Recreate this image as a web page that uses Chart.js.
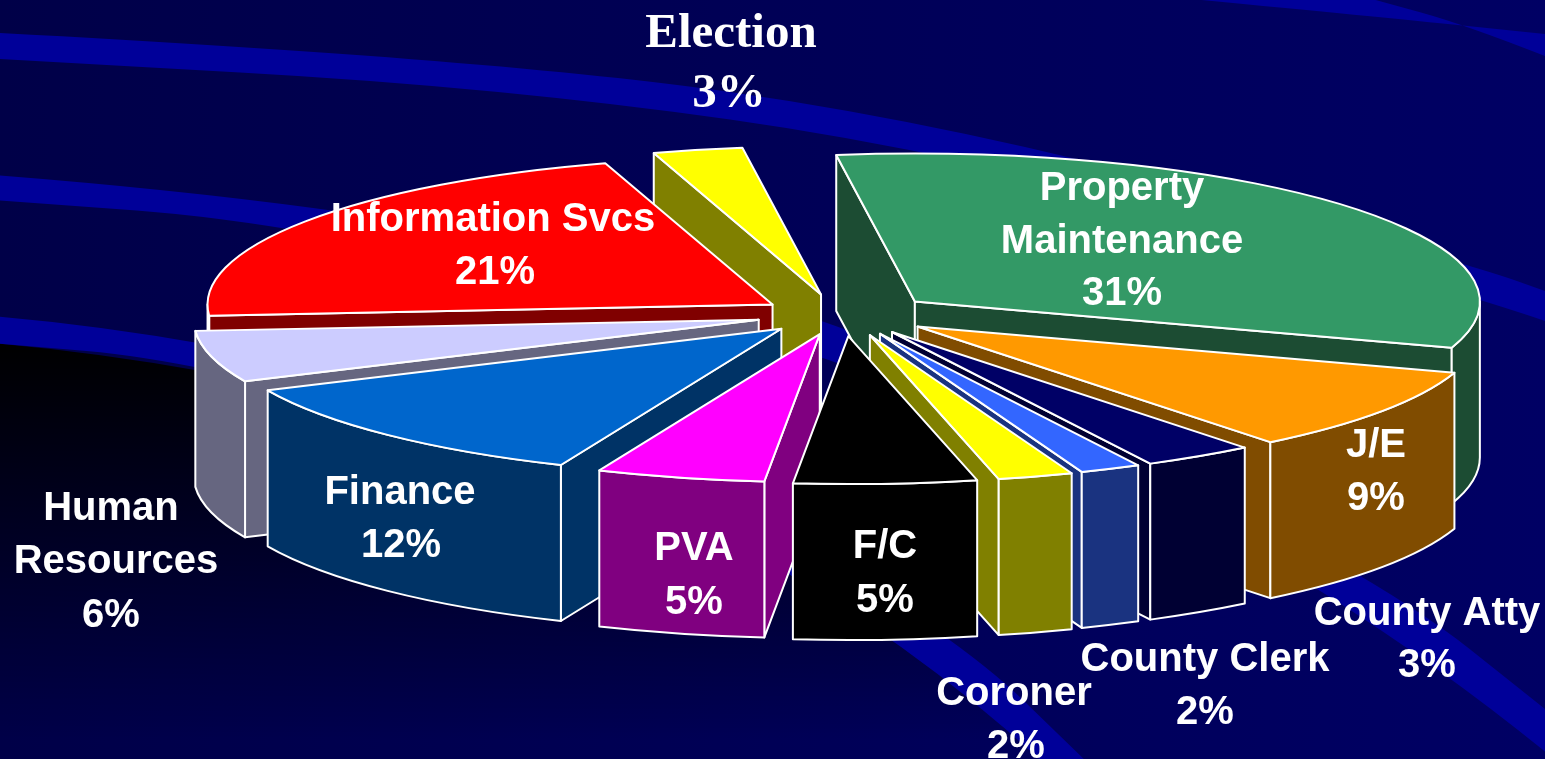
<!DOCTYPE html>
<html>
<head>
<meta charset="utf-8">
<style>
html,body{margin:0;padding:0;background:#000050;overflow:hidden}
#wrap{width:1545px;height:759px}
canvas{display:block}
</style>
<script src="https://cdn.jsdelivr.net/npm/chart.js@4"></script>
</head>
<body>
<div id="wrap"><canvas id="c" width="1545" height="759"></canvas></div>
<script>
// ---- data (unrounded estimates that round to the printed percentages) ----
const categories = ['Property Maintenance','J/E','County Atty','County Clerk','Coroner','F/C','PVA','Finance','Human Resources','Information Svcs','Election'];
const values = [31.49,9,3.1,1.7,2.1,5.1,4.7,11.5,5.5,20.9,2.5];
const sliceColors = ['#339966','#ff9900','#000066','#3366ff','#ffff00','#000000','#ff00ff','#0066cc','#ccccff','#ff0000','#ffff00'];
const wallColors = ['#1c4c33','#804c00','#000033','#1a3380','#808000','#000000','#800080','#003366','#666680','#800000','#808000'];
const explode = [95,92,92,93,95,96,90,87,86,84,96];

// ---- label layout: lines per category with centre positions ----
const labelLines = [
  [['Property',1122,189],['Maintenance',1122,242],['31%',1122,294]],
  [['J/E',1376,446],['9%',1376,499]],
  [['County Atty',1427,614],['3%',1427,666]],
  [['County Clerk',1205,660],['2%',1205,713]],
  [['Coroner',1014,694],['2%',1016,747]],
  [['F/C',885,547],['5%',885,601]],
  [['PVA',694,549],['5%',694,603]],
  [['Finance',400,493],['12%',401,546]],
  [['Human',111,509],['Resources',116,562],['6%',111,616]],
  [['Information Svcs',493,220],['21%',495,273]],
  [['Election',731,34],['3%',729,94]]
];
const serifLabelIndex = 10;

// ---- view of the flattened pie ----
const RX = 565, RY = 148, DEPTH = 156, EXPLODE_TILT = 0.22;

function curve(ctx, pts, move){
  if(move) ctx.moveTo(pts[0][0],pts[0][1]); else ctx.lineTo(pts[0][0],pts[0][1]);
  for(let i=1;i<pts.length-1;i++){
    const mx=(pts[i][0]+pts[i+1][0])/2, my=(pts[i][1]+pts[i+1][1])/2;
    ctx.quadraticCurveTo(pts[i][0],pts[i][1],mx,my);
  }
  const l=pts[pts.length-1]; ctx.lineTo(l[0],l[1]);
}
function band(ctx, top, bottom){
  ctx.beginPath();
  curve(ctx, top, true);
  curve(ctx, bottom.slice().reverse(), false);
  ctx.closePath();
  ctx.fill();
}
const backdrop = {
  id:'backdrop',
  beforeDraw(chart){
    const ctx=chart.ctx, W=chart.width, H=chart.height;
    ctx.save();
    const g=ctx.createLinearGradient(0,0,W,0);
    g.addColorStop(0,'#000048'); g.addColorStop(1,'#000064');
    ctx.fillStyle=g; ctx.fillRect(0,0,W,H);
    // dark sweep below the third arc
    const lower3=[[-20,342],[193,360],[600,470],[910,640],[1040,759]];
    ctx.save();
    ctx.beginPath();
    curve(ctx,lower3,true);
    ctx.lineTo(-20,H+10); ctx.closePath(); ctx.clip();
    const f=ctx.createLinearGradient(0,345,0,740);
    f.addColorStop(0,'rgba(0,0,0,1)'); f.addColorStop(1,'rgba(0,0,0,0)');
    ctx.fillStyle=f; ctx.fillRect(0,0,W,H);
    ctx.restore();
    ctx.fillStyle='#000099';
    band(ctx,[[-20,32],[500,59],[960,125],[1466,263],[1565,298]],[[-20,58],[500,87],[960,152],[1483,298],[1565,328]]);
    band(ctx,[[-20,174],[335,201],[830,306],[1373,572],[1565,725]],[[-20,199],[293,222],[830,345],[1342,583],[1565,768]]);
    band(ctx,[[-20,315],[193,332],[640,450],[957,636],[1090,765]],[[-20,342],[193,360],[600,470],[910,640],[1046,765]]);
    band(ctx,[[1191,-1],[1370,16],[1565,36]],[[1372,-1],[1470,26],[1565,64]]);
    ctx.restore();
  },
  beforeDatasetsDraw(chart){
    const ctx=chart.ctx, arcs=chart.getDatasetMeta(0).data;
    const order=arcs.map((a,i)=>i).sort((p,q)=>{
      const mp=(arcs[p].startAngle+arcs[p].endAngle)/2, mq=(arcs[q].startAngle+arcs[q].endAngle)/2;
      return Math.sin(mp)-Math.sin(mq);
    });
    ctx.save();
    ctx.lineWidth=2; ctx.lineJoin='round'; ctx.strokeStyle='#ffffff';
    for(const i of order){
      const a=arcs[i], mid=(a.startAngle+a.endAngle)/2;
      const off=a.options.offset||0;
      const ox=a.x+Math.cos(mid)*off, oy=a.y+Math.sin(mid)*off*EXPLODE_TILT;
      const px=t=>ox+Math.cos(t)*RX, py=t=>oy+Math.sin(t)*RY;
      const s=a.startAngle, e=a.endAngle;
      ctx.fillStyle=wallColors[i];
      const radial=t=>{
        ctx.beginPath();
        ctx.moveTo(ox,oy); ctx.lineTo(px(t),py(t));
        ctx.lineTo(px(t),py(t)+DEPTH); ctx.lineTo(ox,oy+DEPTH); ctx.closePath();
        ctx.fill(); ctx.stroke();
      };
      if(px(s)<ox) radial(s);
      if(px(e)>ox) radial(e);
      const f0=Math.max(s,0), f1=Math.min(e,Math.PI);
      if(f1>f0){
        ctx.beginPath();
        ctx.ellipse(ox,oy,RX,RY,0,f0,f1,false);
        ctx.ellipse(ox,oy+DEPTH,RX,RY,0,f1,f0,true);
        ctx.closePath();
        ctx.fill(); ctx.stroke();
      }
      ctx.fillStyle=a.options.backgroundColor;
      ctx.beginPath();
      ctx.moveTo(ox,oy);
      ctx.ellipse(ox,oy,RX,RY,0,s,e,false);
      ctx.closePath();
      ctx.fill(); ctx.stroke();
    }
    ctx.restore();
    // labels
    ctx.save();
    ctx.fillStyle='#ffffff';
    ctx.textAlign='center'; ctx.textBaseline='middle';
    labelLines.forEach((lines,i)=>{
      ctx.font = i===serifLabelIndex ? 'bold 49px "Liberation Serif"' : 'bold 40px "Liberation Sans"';
      lines.forEach(l=>ctx.fillText(l[0],l[1],l[2]));
    });
    ctx.restore();
    return false;
  }
};

new Chart(document.getElementById('c'),{
  type:'pie',
  data:{labels:categories,datasets:[{data:values,backgroundColor:sliceColors,offset:explode,borderWidth:0}]},
  options:{
    responsive:false,
    animation:false,
    rotation:-8,
    layout:{padding:{left:139,bottom:129}},
    plugins:{legend:{display:false},tooltip:{enabled:false},title:{display:false}}
  },
  plugins:[backdrop]
});
</script>
</body>
</html>
